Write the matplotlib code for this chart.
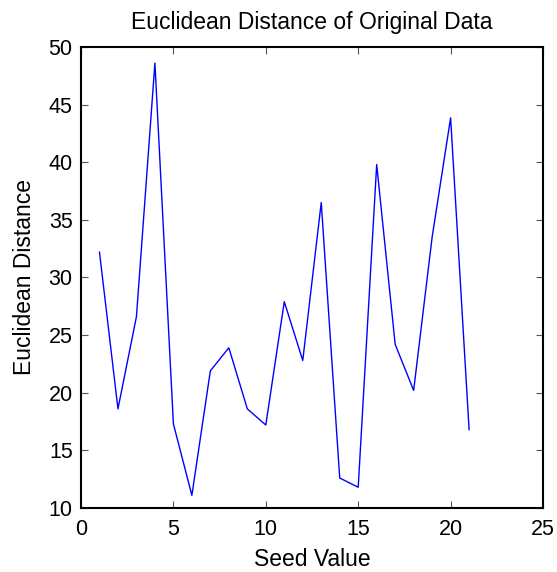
import matplotlib
matplotlib.use("Agg")
import matplotlib.pyplot as plt

seed = list(range(1, 22))
distance = [32.2, 18.6, 26.6, 48.6, 17.3, 11.1, 21.9, 23.9, 18.6, 17.2,
            27.9, 22.8, 36.5, 12.6, 11.8, 39.8, 24.2, 20.2, 33.5, 43.85, 16.8]
xticks = [0, 5, 10, 15, 20, 25]
yticks = [10, 15, 20, 25, 30, 35, 40, 45, 50]

plt.rcParams['font.family'] = ['Liberation Sans', 'DejaVu Sans']

fig = plt.figure(figsize=(5.57, 5.72), dpi=100)
ax = fig.add_axes([0.1454, 0.1119, 0.8295, 0.806])
ax.plot(seed, distance, color='#0000ff', linewidth=1.0)
ax.set_xlim(0, 25)
ax.set_ylim(10, 50)
ax.set_xticks(xticks)
ax.set_yticks(yticks)
ax.tick_params(direction='in', top=True, right=True, length=5, width=0.8,
               labelsize=15.5, color='#555555')
ax.tick_params(axis='x', pad=8)
ax.tick_params(axis='y', pad=6)
for s in ax.spines.values():
    s.set_linewidth(1.5)
    s.set_color('black')
ax.set_title('Euclidean Distance of Original Data', fontsize=16.5, pad=13)
ax.set_xlabel('Seed Value', fontsize=16.5, labelpad=6)
ax.set_ylabel('Euclidean Distance', fontsize=16.5, labelpad=9)
fig.savefig('out.png', dpi=100)
